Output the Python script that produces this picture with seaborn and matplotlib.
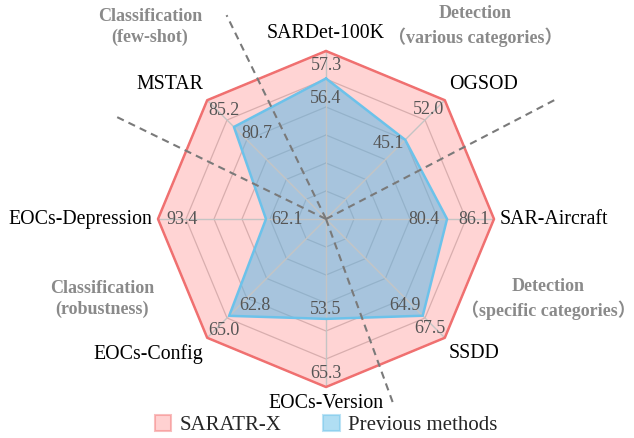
import numpy as np
import pandas as pd
import matplotlib
matplotlib.use("Agg")
import matplotlib.pyplot as plt
from matplotlib.patches import Patch
import seaborn as sns

# ---------------- data ----------------
categories = ["SARDet-100K", "OGSOD", "SAR-Aircraft", "SSDD",
              "EOCs-Version", "EOCs-Config", "EOCs-Depression", "MSTAR"]
saratr_x = [57.3, 52.0, 86.1, 67.5, 65.3, 65.0, 93.4, 85.2]
previous = [56.4, 45.1, 80.4, 64.9, 53.5, 62.8, 62.1, 80.7]
# lower end of each radial axis (upper end = SARATR-X value)
axis_min = [51.8, 31.3, 65.7, 53.5, 36.2, 53.1, 44.7, 65.2]
group_labels = ["Classification\n(few-shot)", "Detection\n（various categories）",
                "Detection\n（specific categories）", "Classification\n(robustness)"]
series_names = ["SARATR-X", "Previous methods"]

# ---------------- style ----------------
sns.set_theme(style="white")
FAM = ["Liberation Serif", "Noto Sans CJK SC", "DejaVu Sans"]
plt.rcParams["font.family"] = FAM

W, H, DPI = 634, 438, 100
CX, CY, R = 326, 219, 168  # centre / radius in pixels
fig = plt.figure(figsize=(W / DPI, H / DPI), dpi=DPI)
ax = fig.add_axes([0, 0, 1, 1])
ax.set_xlim(-CX / R, (W - CX) / R)
ax.set_ylim(-(H - CY) / R, CY / R)
ax.axis("off")

n = len(categories)
ang = np.deg2rad(90 - 45 * np.arange(n))
amin = np.array(axis_min)
amax = np.array(saratr_x)

def radius(vals):
    return (np.array(vals) - amin) / (amax - amin)

def xy(r, a=ang):
    return r * np.cos(a), r * np.sin(a)

# rings (below fills)
for lev in np.arange(1, 7) / 6:
    x, y = xy(np.full(n, lev))
    ax.plot(np.append(x, x[0]), np.append(y, y[0]), color="#bdbdbd", lw=0.9, zorder=1)

red_edge, red_fill = "#f07070", "#ff9a9a"
blue_edge, blue_fill = "#6cc2ea", "#51b6e6"

r1 = radius(saratr_x)
r2 = radius(previous)
x1, y1 = xy(r1)
x2, y2 = xy(r2)
ax.fill(x1, y1, color=red_fill, alpha=0.42, lw=0, zorder=2)
ax.fill(x2, y2, color=blue_fill, alpha=0.5, lw=0, zorder=3)

# spokes (above fills)
for a in ang:
    ax.plot([0, np.cos(a)], [0, np.sin(a)], color="#c4c4c4", lw=1.0, zorder=4)

df1 = pd.DataFrame({"x": np.append(x1, x1[0]), "y": np.append(y1, y1[0])})
df2 = pd.DataFrame({"x": np.append(x2, x2[0]), "y": np.append(y2, y2[0])})
sns.lineplot(data=df1, x="x", y="y", sort=False, estimator=None, color=red_edge, lw=1.8, ax=ax, zorder=5)
sns.lineplot(data=df2, x="x", y="y", sort=False, estimator=None, color=blue_edge, lw=1.8, ax=ax, zorder=5)

# separators
sep_deg = [116, 27.5, 290, 154]
sep_len = [1.35, 1.56, 1.18, 1.41]
for d, L in zip(sep_deg, sep_len):
    a = np.deg2rad(d)
    ax.plot([0, L * np.cos(a)], [0, L * np.sin(a)], color="#7a7a7a", lw=1.5,
            linestyle=(0, (3.5, 2.5)), zorder=6)

# value labels (offsets in pixels from the vertex, label centred)
outer_off = [(0, -15), (-16, -9), (-20, 0), (-15, 9), (0, 14), (17, 7), (24, 0), (17, -10)]
inner_off = [(0, -20), (-17, -4), (-23, 0), (-18, 10), (0, 9), (26, 10), (21, 0), (23, -7)]
for rr, vals, offs in ((r1, saratr_x, outer_off), (r2, previous, inner_off)):
    for a, r, v, o in zip(ang, rr, vals, offs):
        ax.annotate(f"{v:.1f}", xy=xy(r, a), xytext=o, textcoords="offset pixels",
                    ha="center", va="center", fontsize=13, family=FAM,
                    color="#555555", zorder=7)

# category labels
for a, name in zip(ang, categories):
    c, s = np.cos(a), np.sin(a)
    ha = "left" if c > 0.3 else ("right" if c < -0.3 else "center")
    if abs(c) > 0.3 and abs(s) > 0.3:
        off = (4 * np.sign(c), 16 * np.sign(s))
    elif abs(c) > 0.3:
        off = (6 * np.sign(c), 0)
    else:
        off = (0, 17 * np.sign(s))
    ax.annotate(name, xy=(c, s), xytext=off, textcoords="offset pixels",
                ha=ha, va="center", fontsize=14.3, family=FAM, color="black")

# group labels
group_pos_px = [(150, 27), (475, 26), (548, 299), (102, 299)]
for (px, py), txt in zip(group_pos_px, group_labels):
    ax.text((px - CX) / R, (CY - py) / R, txt, ha="center", va="center",
            fontsize=13, fontweight="bold", family=FAM, color="#8a8a8a", linespacing=1.32)

handles = [Patch(facecolor=red_fill, alpha=0.45, edgecolor=red_edge, lw=1.5, label=series_names[0]),
           Patch(facecolor=blue_fill, alpha=0.45, edgecolor=blue_edge, lw=1.5, label=series_names[1])]
fig.legend(handles=handles, loc="center", bbox_to_anchor=(326 / W, 1 - 425 / H), ncol=2,
           frameon=False, prop={"family": FAM, "size": 15}, handlelength=0.8, handleheight=0.8,
           columnspacing=2.0, handletextpad=0.4, borderpad=0)

fig.savefig("out.png", dpi=DPI)
